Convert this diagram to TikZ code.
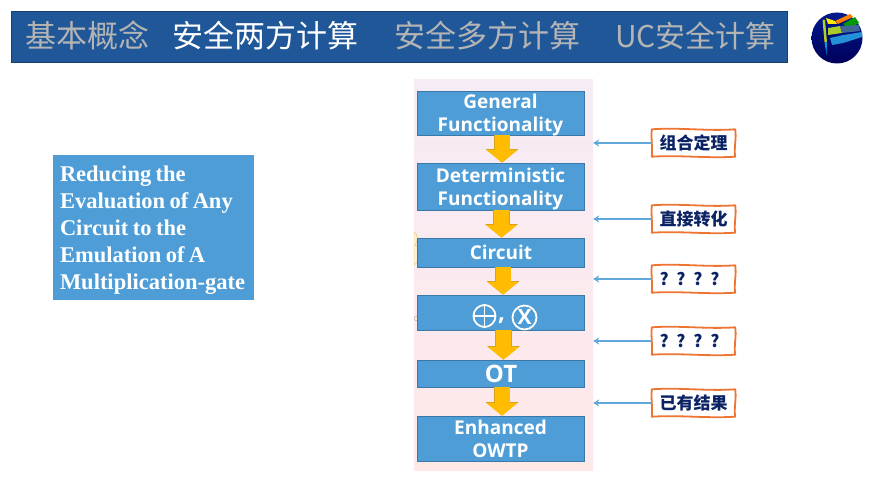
\documentclass[tikz,border=0pt]{standalone}
\usepackage{fontspec}
\usetikzlibrary{arrows.meta}
\newfontfamily\cjk{Noto Sans CJK SC}
\newfontfamily\flowfont{Open Sans}
\newfontfamily\serifbold{Liberation Serif}
\definecolor{bandblue}{HTML}{1F5799}
\definecolor{boxblue}{HTML}{4E9DD6}
\definecolor{boxedge}{HTML}{3A78A8}
\definecolor{flowgold}{HTML}{FFBC00}
\definecolor{flowedge}{HTML}{D9A21B}
\definecolor{noteorange}{HTML}{ED7431}
\definecolor{notenavy}{HTML}{0B2265}
\definecolor{menugrey}{HTML}{B4B4B4}
\definecolor{blobcream}{HTML}{FDEFD0}
\newcommand{\wobblering}[1]{\draw[notering] (#1.north west)
   .. controls ([shift={(28,-2)}]#1.north west) and ([shift={(-28,2)}]#1.north east) .. (#1.north east)
   .. controls ([shift={(1.5,9)}]#1.north east) and ([shift={(-1.5,-9)}]#1.south east) .. (#1.south east)
   .. controls ([shift={(-28,1.8)}]#1.south east) and ([shift={(28,-1.8)}]#1.south west) .. (#1.south west)
   .. controls ([shift={(1,-9)}]#1.south west) and ([shift={(-1,9)}]#1.north west) .. cycle;}
\begin{document}
\begin{tikzpicture}[x=1pt,y=-1pt,
    band/.style={rectangle, draw=bandblue!70!black, fill=bandblue, minimum width=776pt, minimum height=51pt},
    menu/.style={text=menugrey, font=\cjk\fontsize{31}{34}\selectfont, inner sep=0pt},
    panel/.style={rectangle, shade, top color=pink!10!violet!8, bottom color=red!9, minimum width=179pt, minimum height=390pt},
    flowbox/.style={rectangle, draw=boxedge, thick, fill=boxblue, text=white, minimum width=167pt, align=center, inner sep=0pt,
      font=\flowfont\bfseries\fontsize{19}{23}\selectfont},
    sign/.style={circle, draw=white, line width=1.8pt, inner sep=0pt, text=white},
    note/.style={rectangle, fill=white, minimum width=83pt, minimum height=27pt, inner sep=0pt,
      text=notenavy, font=\cjk\bfseries\fontsize{17}{20}\selectfont},
    notering/.style={draw=noteorange, line width=1.8pt, line join=round},
    pointer/.style={draw=boxblue!90!white, line width=1.4pt, -{Stealth[length=6pt,width=7pt]}},
    flow/.style={line width=15pt, draw=flowgold, -{Triangle[length=12.5pt,width=30pt,fill=flowgold,color=flowgold]},
      preaction={draw=flowedge, line width=16.4pt, -{Triangle[length=13.5pt,width=32pt,color=flowedge]}}}]
   \useasboundingbox (0,0) rectangle (876,487);

   \node[band] (B) at (399,36.5) {};
   \node[menu] (M1) at (87.5,36) {基本概念};
   \node[menu,text=white] (M2) at (265.5,36) {安全两方计算};
   \node[menu] (M3) at (487,36) {安全多方计算};
   \node[menu,font=\cjk\fontsize{30}{34}\selectfont] (M4) at (695.5,36) {UC安全计算};

   \shade[top color=blue!50!black!90!cyan, bottom color=blue!35!black] (837,38) circle (25.5);
   \fill[yellow!75!green!90!black] (822.5,20) -- (825,20) -- (827,42) -- (824.5,42) -- cycle;
   \fill[cyan!80!blue] (824.5,42) -- (827,42) -- (826.5,55) -- cycle;
   \fill[yellow!90!orange] (826,18) -- (835,21) -- (837,24) -- (828,24) -- cycle;
   \fill[orange] (835,21) -- (850,14) -- (853,17) -- (838,24) -- cycle;
   \fill[green!60!black] (843,24) -- (855,17) -- (859,23) -- (848,29) -- cycle;
   \fill[yellow!70!green!90!black] (828,28) -- (840,26) -- (842,33) -- (828,35) -- cycle;
   \fill[cyan!50!blue!70!black] (840,26) -- (859,25) -- (860,31) -- (842,33) -- cycle;
   \fill[cyan!70!blue!90!white] (830,38) -- (843,35) -- (862,32) -- (862,37) -- (843,43) -- (832,45) -- cycle;

   \node[panel] (P) at (503.5,275) {};
   \draw[flowedge!60,fill=blobcream,thin] (414,232) .. controls (418,233) and (418,243) .. (415,245) .. controls (421,248) and (422,260) .. (414,265) -- cycle;
   \draw[gray!70,fill=blobcream] (416,318.5) circle (2);

   \node[flowbox,inner ysep=-4pt,minimum height=44pt] (G) at (500.5,113) {\rule{0pt}{18pt}General\\Functionality};
   \node[flowbox,inner ysep=-4pt,minimum height=47pt] (D) at (500.5,186.5) {\rule{0pt}{20pt}Deterministic\\Functionality};
   \node[flowbox,minimum height=29pt] (C) at (501,252.5) {Circuit};
   \node[flowbox,minimum height=35pt] (X) at (500.5,312.5) {};
   \node[flowbox,minimum height=27pt,font=\flowfont\bfseries\fontsize{24}{28}\selectfont] (O) at (501,373.5) {OT};
   \node[flowbox,minimum height=45pt] (E) at (500.5,438.5) {Enhanced\\OWTP};

   \node[sign,minimum size=22pt] (S1) at (484.5,316) {};
   \draw[white,line width=1.6pt] (S1.north) -- (S1.south);
   \draw[white,line width=1.6pt] (S1.west) -- (S1.east);
   \node[text=white,font=\flowfont\bfseries\fontsize{24}{28}\selectfont,inner sep=0pt] (S2) at (501.5,321) {,};
   \node[sign,minimum size=24pt,font=\flowfont\bfseries\fontsize{21}{23}\selectfont] (S3) at (524.5,317.5) {X};

   \draw[flow] ([xshift=1.5pt]G.south) -- ([xshift=1.5pt]D.north);
   \draw[flow] ([xshift=1pt]D.south) -- ([xshift=0.5pt]C.north);
   \draw[flow] ([xshift=2pt]C.south) -- ([xshift=2.5pt]X.north);
   \draw[flow] ([xshift=3pt]X.south) -- ([xshift=2.5pt]O.north);
   \draw[flow] ([xshift=1pt]O.south) -- ([xshift=1.5pt]E.north);

   \node[note] (N1) at (693.5,143) {组合定理};
   \node[note] (N2) at (693.5,219) {直接转化};
   \node[note] (N3) at (693.5,279) {\spaceskip=6.5pt ? ? ? ?\hspace{8pt}\null};
   \node[note] (N4) at (693.5,341) {\spaceskip=6.5pt ? ? ? ?\hspace{8pt}\null};
   \node[note] (N5) at (693.5,403) {已有结果};

   \wobblering{N1}
   \wobblering{N2}
   \wobblering{N3}
   \wobblering{N4}
   \wobblering{N5}

   \draw[pointer] (N1.west) -- (N1.west -| P.east);
   \draw[pointer] (N2.west) -- (N2.west -| P.east);
   \draw[pointer] (N3.west) -- (N3.west -| P.east);
   \draw[pointer] (N4.west) -- (N4.west -| P.east);
   \draw[pointer] (N5.west) -- (N5.west -| P.east);

   \node[rectangle, fill=boxblue, text=white, minimum width=201pt, minimum height=145pt, text width=187pt, align=left,
     font=\serifbold\bfseries\fontsize{22.5}{27}\selectfont] (R) at (153.5,227.5)
     {\spaceskip=0.2em \rule{0pt}{21pt}Reducing the\\Evaluation of Any\\Circuit to the\\Emulation of A\\Multiplication-gate};
\end{tikzpicture}
\end{document}
